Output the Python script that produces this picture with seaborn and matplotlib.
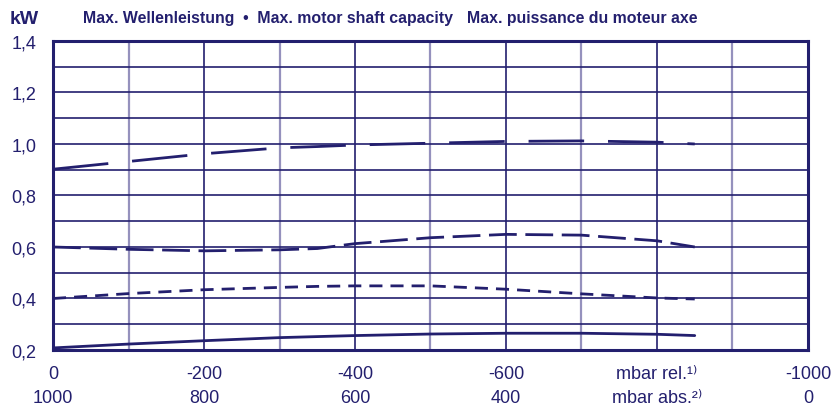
import numpy as np
import pandas as pd
import seaborn as sns
from matplotlib import pyplot as plt
from matplotlib.ticker import MultipleLocator

# data (x = mbar rel.)
pressure = [0, -100, -200, -300, -350, -400, -500, -600, -700, -800, -850]
p_solid = [0.208, 0.223, 0.236, 0.248, 0.252, 0.256, 0.262, 0.265, 0.265, 0.261, 0.256]
p_short = [0.400, 0.419, 0.434, 0.443, 0.447, 0.449, 0.449, 0.436, 0.418, 0.402, 0.398]
p_mid = [0.600, 0.591, 0.585, 0.589, 0.594, 0.613, 0.636, 0.649, 0.646, 0.624, 0.600]
p_long = [0.902, 0.932, 0.962, 0.985, 0.990, 0.996, 1.003, 1.010, 1.012, 1.007, 1.000]

xticks = [0, -200, -400, -600, -800, -1000]
xlabels = ['0\n1000', '-200\n800', '-400\n600', '-600\n400',
           'mbar rel.\u00b9\u207e\nmbar abs.\u00b2\u207e', '-1000\n0']
yticks = [0.2, 0.4, 0.6, 0.8, 1.0, 1.2, 1.4]
ylabels = ['0,2', '0,4', '0,6', '0,8', '1,0', '1,2', '1,4']

navy = '#231f6e'
light = '#9591bd'

sns.set_style('white')
plt.rcParams['font.family'] = ['Liberation Sans', 'DejaVu Sans']

df = pd.concat([
    pd.DataFrame({'x': pressure, 'kW': p_solid, 'curve': 'a'}),
    pd.DataFrame({'x': pressure, 'kW': p_short, 'curve': 'b'}),
    pd.DataFrame({'x': pressure, 'kW': p_mid, 'curve': 'c'}),
    pd.DataFrame({'x': pressure, 'kW': p_long, 'curve': 'd'}),
])

fig = plt.figure(figsize=(8.31, 4.06), dpi=100)
ax = fig.add_axes([0.0638, 0.1355, 0.9085, 0.7611])

sns.lineplot(data=df, x='x', y='kW', style='curve', ax=ax, color=navy,
             linewidth=2.0, legend=False, sort=False,
             dashes={'a': '', 'b': (4.7, 2.9), 'c': (10, 3.1), 'd': (20, 8.6)})

ax.set_xlim(0, -1000)
ax.set_ylim(0.2, 1.4)
ax.set_xticks(xticks)
ax.set_xticklabels(xlabels, fontsize=13, color=navy, linespacing=1.6)
ax.xaxis.set_minor_locator(MultipleLocator(100))
ax.set_yticks(yticks)
ax.set_yticklabels(ylabels, fontsize=13, color=navy)
ax.yaxis.set_minor_locator(MultipleLocator(0.1))
ax.tick_params(which='both', length=0)
ax.tick_params(axis='y', pad=12)
ax.tick_params(axis='x', pad=10.5)

ax.grid(True, which='major', color=navy, linewidth=1.2)
ax.grid(True, which='minor', axis='y', color=navy, linewidth=1.2)
ax.grid(True, which='minor', axis='x', color=light, linewidth=1.6)
ax.set_axisbelow(True)
for s in ax.spines.values():
    s.set_color(navy)
    s.set_linewidth(2.2)
ax.set_xlabel('')
ax.set_ylabel('')

fig.text(10 / 831, 1 - 20 / 406, 'kW', fontsize=14, fontweight='bold',
         color=navy, va='center', ha='left')
fig.text(83 / 831, 1 - 18 / 406, 'Max. Wellenleistung  \u2022  Max. motor shaft capacity',
         fontsize=11.4, fontweight='bold', color=navy, va='center', ha='left')
fig.text(467 / 831, 1 - 18 / 406, 'Max. puissance du moteur axe',
         fontsize=11.4, fontweight='bold', color=navy, va='center', ha='left')

fig.savefig('out.png', dpi=100)
